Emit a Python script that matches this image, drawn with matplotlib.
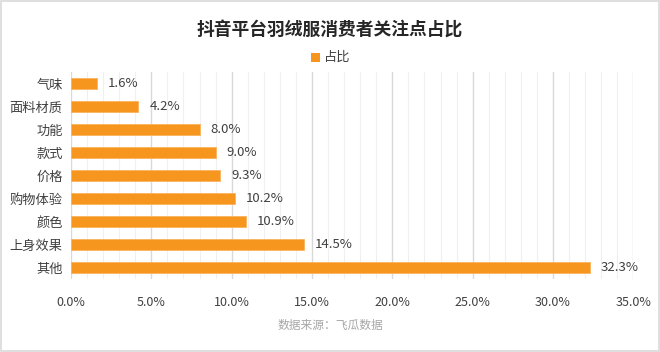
import matplotlib
matplotlib.use("Agg")
import matplotlib.pyplot as plt
from matplotlib.ticker import MultipleLocator
from matplotlib.patches import Rectangle

plt.rcParams['font.family'] = ['Noto Sans CJK SC', 'DejaVu Sans']

categories = ["气味", "面料材质", "功能", "款式", "价格", "购物体验", "颜色", "上身效果", "其他"]
values = [1.6, 4.2, 8.0, 9.0, 9.3, 10.2, 10.9, 14.5, 32.3]
value_labels = ["1.6%", "4.2%", "8.0%", "9.0%", "9.3%", "10.2%", "10.9%", "14.5%", "32.3%"]
x_ticks = [0, 5, 10, 15, 20, 25, 30, 35]
x_tick_labels = ["0.0%", "5.0%", "10.0%", "15.0%", "20.0%", "25.0%", "30.0%", "35.0%"]
title = "抖音平台羽绒服消费者关注点占比"
series_name = "占比"
source = "数据来源：飞瓜数据"

bar_color = "#F7961E"
text_color = "#404040"

fig = plt.figure(figsize=(6.6, 3.52), dpi=100)
fig.patch.set_facecolor("white")
fig.add_artist(Rectangle((0.001, 0.002), 0.997, 0.995, transform=fig.transFigure,
                         fill=False, edgecolor="#D9D9D9", linewidth=1.2))

ax = fig.add_axes([0.1076, 0.207, 0.852, 0.588])
y = list(range(len(categories)))
ax.barh(y, values, height=0.5, color=bar_color, edgecolor="#F9B35E", linewidth=0.6, zorder=3)
ax.set_ylim(len(categories) - 0.5, -0.5)
ax.set_xlim(0, 35)
ax.set_yticks(y)
ax.set_yticklabels(categories, fontsize=9.5, color=text_color)
ax.set_xticks(x_ticks)
ax.set_xticklabels(x_tick_labels, fontsize=9, color=text_color)
ax.xaxis.set_minor_locator(MultipleLocator(1))
ax.grid(axis='x', which='major', color="#D9D9D9", linewidth=1.0, zorder=0)
ax.grid(axis='x', which='minor', color="#F0F0F0", linewidth=0.8, zorder=0)
ax.tick_params(axis='both', which='both', length=0)
ax.tick_params(axis='x', pad=12)
ax.tick_params(axis='y', pad=6)
for s in ax.spines.values():
    s.set_visible(False)

for yi, v, lab in zip(y, values, value_labels):
    ax.annotate(lab, (v, yi), xytext=(8, 0), textcoords='offset points',
                va='center', ha='left', fontsize=9.5, color=text_color)

fig.text(0.5, 0.915, title, ha='center', va='center', fontsize=12.8, fontweight='bold', color="#262626")
fig.add_artist(Rectangle((0.4715, 0.825), 0.0135, 0.025, transform=fig.transFigure,
                         facecolor=bar_color, edgecolor='none'))
fig.text(0.4905, 0.838, series_name, ha='left', va='center', fontsize=9.5, color=text_color)
fig.text(0.5, 0.075, source, ha='center', va='center', fontsize=8.5, color="#A6A6A6")

fig.savefig("out.png", dpi=100, facecolor="white")
